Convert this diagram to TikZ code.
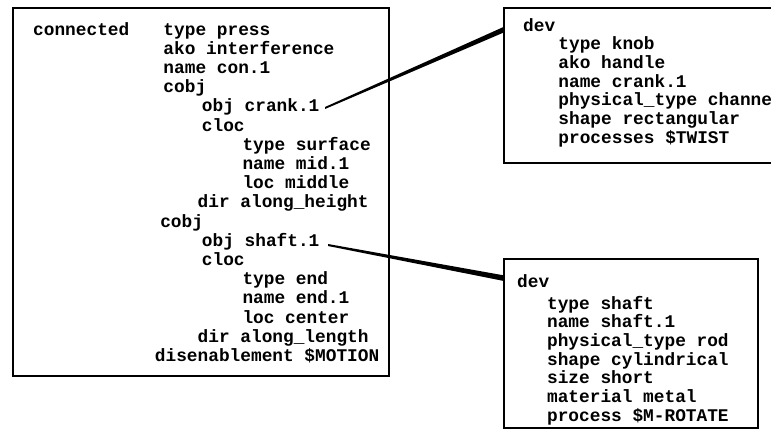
\documentclass[tikz,border=0pt]{standalone}
\usepackage{fontspec}
\setmonofont{Liberation Mono}
\usetikzlibrary{calc}

% indent by n characters of the mono font
\newcommand{\ind}[1]{\hspace*{#1\dimexpr0.6em\relax}}
% tapered link, thin at the slot, thick at the frame
\newcommand{\link}[2]{\fill ($(#1)+(0,1)$) -- ($(#2)+(0,2.8)$) -- ($(#2)+(0,-2.8)$) -- ($(#1)+(0,-1)$) -- cycle;}

\tikzset{
  frame/.style={draw, line width=1.8pt, inner sep=0pt, anchor=north west},
  listing/.style={anchor=north west, inner sep=0pt, align=left,
    font=\ttfamily\bfseries\fontsize{17.8}{#1}\selectfont},
  listing/.default=19.2,
}

\begin{document}
\begin{tikzpicture}[x=1pt,y=-1pt]
\useasboundingbox (0,0) rectangle (771,432);
\clip (0,0) rectangle (771,432);

% the connection frame
\node[frame, minimum width=376, minimum height=368] (conn) at (12,7) {};
\node[listing] (conntext) at (33,22) {%
connected\ind{3.2}type press\\
\ind{12.2}ako interference\\
\ind{12.2}name con.1\\
\ind{12.2}cobj\\
\ind{15.8}obj crank.1\\
\ind{15.8}cloc\\
\ind{19.6}type surface\\
\ind{19.6}name mid.1\\
\ind{19.6}loc middle\\
\ind{15.4}dir along\_height\\
\ind{11.9}cobj\\
\ind{15.8}obj shaft.1\\
\ind{15.8}cloc\\
\ind{19.6}type end\\
\ind{19.6}name end.1\\
\ind{19.6}loc center\\
\ind{15.4}dir along\_length\\
\ind{11.4}disenablement \$MOTION};

% device frames
\node[frame, minimum width=300, minimum height=155] (knob) at (503,7) {};
\node[listing=18.7] (knobtext) at (523,18) {%
dev\\
\ind{3.3}type knob\\
\ind{3.3}ako handle\\
\ind{3.3}name crank.1\\
\ind{3.3}physical\_type channel\\
\ind{3.3}shape rectangular\\
\ind{3.3}processes \$TWIST};

\node[frame, minimum width=254, minimum height=169] (shaft) at (503,258) {};
\node[listing=18.7] (shafttext) at (517,274) {%
dev\\[3.3pt]
\ind{2.8}type shaft\\
\ind{2.8}name shaft.1\\
\ind{2.8}physical\_type rod\\
\ind{2.8}shape cylindrical\\
\ind{2.8}size short\\
\ind{2.8}material metal\\
\ind{2.8}process \$M-ROTATE};

% links from the slots to the devices
\coordinate (crankslot) at (325,108);
\coordinate (shaftslot) at (328,245);
\coordinate (knobin) at ($(knob.north west)+(0,23)$);
\coordinate (shaftin) at ($(shaft.north west)+(0,20)$);
\link{crankslot}{knobin}
\link{shaftslot}{shaftin}
\end{tikzpicture}
\end{document}
